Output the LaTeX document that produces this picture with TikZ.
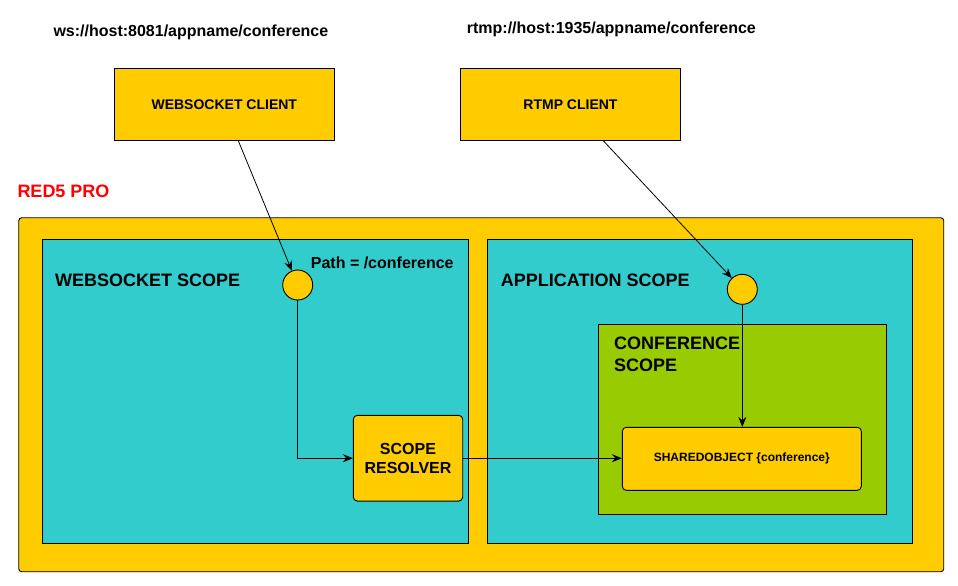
\documentclass[tikz,border=0pt]{standalone}
\usepackage{fontspec}
\setmainfont{Liberation Sans}
\usetikzlibrary{arrows.meta}
\definecolor{red5amber}{HTML}{FFCC00}
\definecolor{scopeteal}{HTML}{33CCCC}
\definecolor{confgreen}{HTML}{99CC00}
\tikzset{x=1pt, y=-1pt,
    panel/.style={draw, line width=0.9pt, anchor=north west, inner sep=0pt},
    clientbox/.style={draw, line width=0.9pt, fill=red5amber, minimum width=220pt,
        minimum height=72pt, font=\fontsize{14}{16.8}\selectfont\bfseries},
    roundbox/.style={draw, line width=0.9pt, fill=red5amber, rounded corners=4pt,
        align=center},
    hub/.style={draw, line width=0.9pt, fill=red5amber, circle, minimum size=30pt,
        inner sep=0pt},
    url/.style={anchor=base west, inner sep=0pt, font=\fontsize{16}{19}\selectfont\bfseries},
    title/.style={anchor=base west, inner sep=0pt, align=left,
        font=\fontsize{18}{21.6}\selectfont\bfseries},
    link/.style={line width=0.8pt, -{Stealth[length=10pt, width=8pt, inset=3.5pt]}},
    }
\begin{document}
\begin{tikzpicture}
\useasboundingbox (0,0) rectangle (958,586);
% urls
\node[url] (wsurl) at (53.3,36.7) {ws://host:8081/appname/conference};
\node[url] (rtmpurl) at (466.7,33.3) {rtmp://host:1935/appname/conference};
% clients
\node[clientbox] (wsclient) at (224.3,104.3) {WEBSOCKET CLIENT};
\node[clientbox] (rtmpclient) at (570.5,104.3) {RTMP CLIENT};
% server
\node[title, text=red] (red5) at (17.3,197.7) {RED5 PRO};
\node[panel, fill=red5amber, rounded corners=3pt, minimum width=925pt,
    minimum height=354pt] (server) at (18.3,217.3) {};
\node[panel, fill=scopeteal, minimum width=425.4pt, minimum height=303.7pt]
    (wsscope) at (42.3,239.3) {};
\node[panel, fill=scopeteal, minimum width=425pt, minimum height=303.7pt]
    (appscope) at (487.3,239.3) {};
\node[panel, fill=confgreen, minimum width=288pt, minimum height=189.7pt]
    (confscope) at (598.3,324.3) {};
\node[title] (wstitle) at (55,286.6) {WEBSOCKET SCOPE};
\node[title] (apptitle) at (500.7,286.6) {APPLICATION SCOPE};
\node[title] (conftitle) at (614,371.3) {CONFERENCE\\SCOPE};
\node[url] (path) at (310.7,268.3) {Path = /conference};
% hubs and boxes
\node[hub] (wshub) at (297.7,285) {};
\node[hub] (rtmphub) at (742.3,289.3) {};
\node[roundbox, minimum width=109.4pt, minimum height=85.7pt,
    font=\fontsize{16}{19.2}\selectfont\bfseries] (resolver) at (408,458.2) {SCOPE\\RESOLVER};
\node[roundbox, minimum width=239pt, minimum height=63pt,
    font=\fontsize{12}{14.4}\selectfont\bfseries] (shared) at (741.8,458.8) {SHAREDOBJECT \{conference\}};
% connectors
\draw[link] ([xshift=14pt]wsclient.south) -- (wshub);
\draw[link] ([xshift=32.8pt]rtmpclient.south) -- (rtmphub);
\draw[link] (wshub) |- (resolver);
\draw[link] (resolver) -- (resolver -| shared.west);
\draw[link] (rtmphub) -- (rtmphub |- shared.north);
\end{tikzpicture}
\end{document}
